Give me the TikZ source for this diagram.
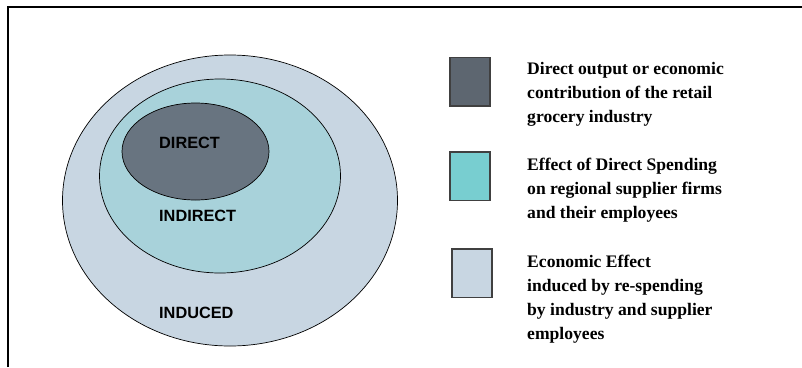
\documentclass[tikz,border=0pt]{standalone}
\usepackage{fontspec}
\setmainfont{Liberation Serif}
\newfontfamily\labelfont{Liberation Sans}
\usetikzlibrary{calc}

\definecolor{directcol}{HTML}{687480}
\definecolor{indirectcol}{HTML}{A8D2DA}
\definecolor{inducedcol}{HTML}{C8D6E2}
\definecolor{keyone}{HTML}{5D6670}
\definecolor{keytwo}{HTML}{78CED0}

\begin{document}
\begin{tikzpicture}[x=1pt,y=-1pt]
   \useasboundingbox (0,0) rectangle (802,367);

   \coordinate (c1) at (230,200.5);
   \coordinate (c2) at (220,176);
   \coordinate (c3) at (195.5,151.5);

   \coordinate (k1) at (450,57.5);
   \coordinate (k2) at (450,152);
   \coordinate (k3) at (452,249);

   \coordinate (f1) at (8,367);
   \coordinate (f2) at (8,7);
   \coordinate (f3) at (802,7);

   % frame
   \draw[line width=2pt] (f1) -- (f2) -- (f3);

   % rings
   \filldraw[fill=inducedcol,draw=black,line width=0.7pt] (c1) ellipse [x radius=167.5,y radius=145.5];
   \filldraw[fill=indirectcol,draw=black,line width=0.7pt] (c2) ellipse [x radius=120.5,y radius=97];
   \filldraw[fill=directcol,draw=black,line width=0.7pt] (c3) ellipse [x radius=73.5,y radius=48.5];

   \node[anchor=west,inner sep=0pt,font=\labelfont\bfseries\fontsize{16.3}{18}\selectfont] (l1) at (159,143) {DIRECT};
   \node[anchor=west,inner sep=0pt,font=\labelfont\bfseries\fontsize{16.3}{18}\selectfont] (l2) at (159,216) {INDIRECT};
   \node[anchor=west,inner sep=0pt,font=\labelfont\bfseries\fontsize{16.3}{18}\selectfont] (l3) at (159,313) {INDUCED};

   % legend
   \filldraw[fill=keyone,draw=black!75,line width=1.2pt] (k1) rectangle ++(40,48.5);
   \filldraw[fill=keytwo,draw=black!75,line width=1.2pt] (k2) rectangle ++(40,48.5);
   \filldraw[fill=inducedcol,draw=black!75,line width=1.2pt] (k3) rectangle ++(40,48.5);

   \node[anchor=north west,inner sep=0pt,align=left,font=\bfseries\fontsize{17.6}{24}\selectfont] (t1) at (527,62)
      {Direct output or economic\\contribution of the retail\\grocery industry};
   \node[anchor=north west,inner sep=0pt,align=left,font=\bfseries\fontsize{17.6}{24}\selectfont] (t2) at (527,157.5)
      {Effect of Direct Spending\\on regional supplier firms\\and their employees};
   \node[anchor=north west,inner sep=0pt,align=left,font=\bfseries\fontsize{17.6}{24}\selectfont] (t3) at (527,254.5)
      {Economic Effect\\induced by re-spending\\by industry and supplier\\employees};

\end{tikzpicture}
\end{document}
